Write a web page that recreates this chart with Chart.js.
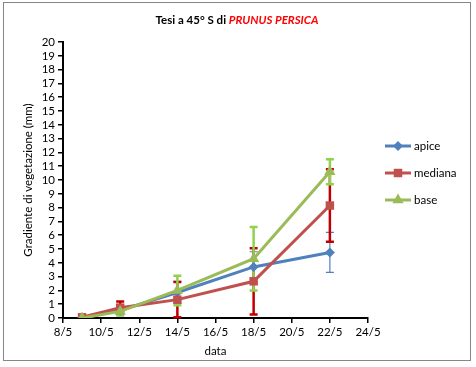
<!DOCTYPE html>
<html>
<head>
<meta charset="utf-8">
<script src="https://cdn.jsdelivr.net/npm/chart.js@4/dist/chart.umd.min.js"></script>
<style>
  html, body { margin:0; padding:0; background:#fff; }
  #wrap { width:476px; height:367px; position:relative; }
</style>
</head>
<body>
<div id="wrap"><canvas id="grafico" width="476" height="367"></canvas></div>
<script>
// ================== Dati ==================
const giorni = [9, 11, 14, 18, 22];               // giorno di maggio
const apice   = [0, 0.55, 1.85, 3.7, 4.75];
const mediana = [0.05, 0.75, 1.33, 2.66, 8.15];
const base    = [0, 0.48, 2.0, 4.3, 10.6];
const errApice   = [0, 0.2, 0.8, 1.1, 1.45];
const errMediana = [0, 0.45, 1.27, 2.4, 2.63];
const errBase    = [0, 0.3, 1.07, 2.3, 0.9];
const yTicks = [0, 20, 1];        // min, max, passo
const xTicks = [8, 24, 2];

const FONT = 'Lato, "Liberation Sans", sans-serif';

const serie = [
  { label:'apice',   data:apice,   err:errApice,   colore:'#4F81BD', errColore:'#4F81BD', errW:1.2, punto:'rectRot', r:5 },
  { label:'mediana', data:mediana, err:errMediana, colore:'#C0504D', errColore:'#C00000', errW:2.5, punto:'rect', r:6 },
  { label:'base',    data:base,    err:errBase,    colore:'#9BBB59', errColore:'#92D050', errW:2.5, punto:'triangle', r:6.5 }
];

// ================== Plugin: bordo, titolo, barre d'errore, legenda ==================
const extra = {
  id:'extra',
  beforeDraw(chart) {
    const c = chart.ctx;
    c.save();
    c.fillStyle = '#fff';
    c.fillRect(0, 0, chart.width, chart.height);
    c.strokeStyle = '#868686';
    c.lineWidth = 1;
    c.strokeRect(3.5, 2.5, 467, 358);
    // titolo
    const p1 = 'Tesi a 45° S di ', p2 = 'PRUNUS PERSICA';
    c.font = 'bold 11.5px ' + FONT;
    const w1 = c.measureText(p1).width;
    c.font = 'italic bold 11.5px ' + FONT;
    const w2 = c.measureText(p2).width;
    let x = 237 - (w1 + w2) / 2;
    c.textBaseline = 'middle';
    c.textAlign = 'left';
    c.fillStyle = '#000';
    c.font = 'bold 11.5px ' + FONT;
    c.fillText(p1, x, 20);
    c.fillStyle = '#FF0000';
    c.font = 'italic bold 11.5px ' + FONT;
    c.fillText(p2, x + w1, 20);
    c.restore();
  },
  beforeDatasetsDraw(chart) {
    const c = chart.ctx, xs = chart.scales.x, ys = chart.scales.y;
    c.save();
    serie.forEach(s => {
      c.strokeStyle = s.errColore;
      c.lineWidth = s.errW;
      s.data.forEach((v, i) => {
        const e = s.err[i];
        if (!e) return;
        const px = xs.getPixelForValue(giorni[i]);
        const top = ys.getPixelForValue(v + e);
        const bot = ys.getPixelForValue(Math.max(0, v - e));
        c.beginPath();
        c.moveTo(px, top); c.lineTo(px, bot);
        c.moveTo(px - 4, top); c.lineTo(px + 4, top);
        if (v - e > 0) { c.moveTo(px - 4, bot); c.lineTo(px + 4, bot); }
        c.stroke();
      });
    });
    c.restore();
  },
  afterDraw(chart) {
    const c = chart.ctx;
    c.save();
    serie.forEach((s, i) => {
      const y = 146 + i * 27;
      c.strokeStyle = s.colore;
      c.lineWidth = 3;
      c.beginPath(); c.moveTo(385, y); c.lineTo(411, y); c.stroke();
      c.fillStyle = s.colore;
      Chart.helpers.drawPoint(c, { pointStyle:s.punto, radius:s.r, rotation:0, borderWidth:0 }, 398, y);
      c.fillStyle = '#000';
      c.font = '11.5px ' + FONT;
      c.textBaseline = 'middle';
      c.fillText(s.label, 414, y);
    });
    c.restore();
  }
};

// ================== Grafico ==================
const ctx = document.getElementById('grafico').getContext('2d');
new Chart(ctx, {
  type:'line',
  data:{
    datasets: serie.map((s, i) => ({
      label:s.label,
      data:s.data.map((v, k) => ({ x:giorni[k], y:v })),
      borderColor:s.colore,
      backgroundColor:s.colore,
      borderWidth:3,
      pointStyle:s.punto,
      pointRadius:s.r,
      pointBorderWidth:0,
      order:serie.length - i,
      tension:0
    }))
  },
  options:{
    responsive:false,
    animation:false,
    devicePixelRatio:1,
    layout:{ padding:{ left:0, top:42, right:108, bottom:9 } },
    plugins:{ legend:{ display:false }, title:{ display:false }, tooltip:{ enabled:false } },
    scales:{
      x:{
        type:'linear', min:xTicks[0], max:xTicks[1],
        ticks:{ stepSize:xTicks[2], color:'#000', font:{ family:FONT, size:11.5 }, padding:2, callback:v => v + '/5', maxRotation:0 },
        grid:{ drawOnChartArea:false, color:'#000', tickLength:5, lineWidth:1.5 },
        border:{ color:'#000', width:2 },
        title:{ display:true, text:'data', color:'#000', font:{ family:FONT, size:11.5 }, padding:{ top:2, bottom:0 } },
        afterFit:s => { s.height = 40; }
      },
      y:{
        min:yTicks[0], max:yTicks[1],
        ticks:{ stepSize:yTicks[2], color:'#000', font:{ family:FONT, size:11.5 }, padding:3, autoSkip:false },
        grid:{ drawOnChartArea:false, color:'#000', tickLength:5, lineWidth:1.5 },
        border:{ color:'#000', width:2 },
        title:{ display:true, text:'Gradiente di vegetazione (mm)', color:'#000', font:{ family:FONT, size:11.5 }, padding:{ top:21, bottom:0 } },
        afterFit:s => { s.width = 63; }
      }
    }
  },
  plugins:[extra]
});
</script>
</body>
</html>
